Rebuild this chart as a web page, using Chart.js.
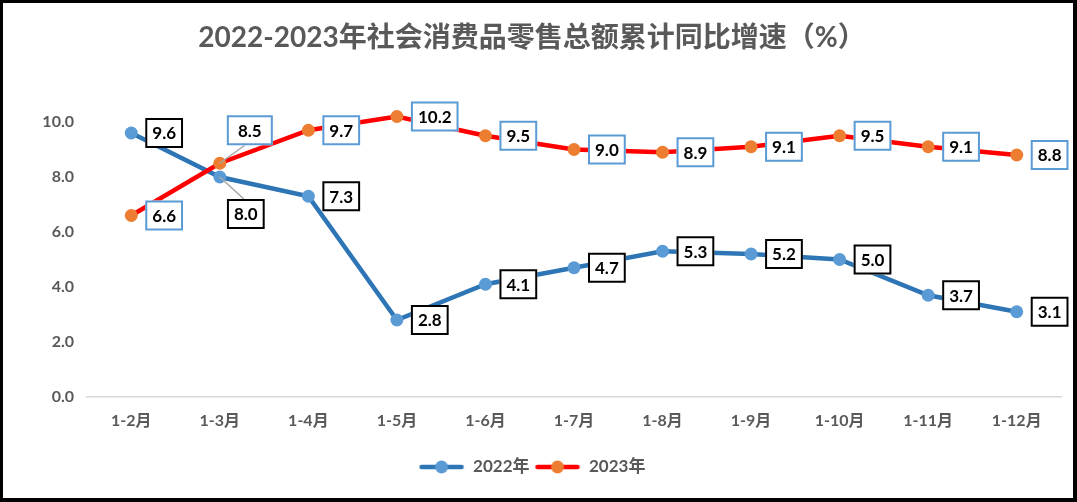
<!DOCTYPE html>
<html>
<head>
<meta charset="utf-8">
<script src="https://cdn.jsdelivr.net/npm/chart.js@4/dist/chart.umd.min.js"></script>
<style>
  html, body { margin: 0; padding: 0; background: #fff; }
  #wrap { width: 1077px; height: 502px; box-sizing: border-box; border-style: solid; border-color: #000; border-width: 3px 4px 4px 3px; background: #fff; }
  canvas { display: block; }
</style>
</head>
<body>
<div id="wrap"><canvas id="c" width="1070" height="495"></canvas></div>
<script>
// ---- data ----
const categories = ['1-2月', '1-3月', '1-4月', '1-5月', '1-6月', '1-7月', '1-8月', '1-9月', '1-10月', '1-11月', '1-12月'];
const seriesNames = ['2022年', '2023年'];
const values2022 = [9.6, 8.0, 7.3, 2.8, 4.1, 4.7, 5.3, 5.2, 5.0, 3.7, 3.1];
const values2023 = [6.6, 8.5, 9.7, 10.2, 9.5, 9.0, 8.9, 9.1, 9.5, 9.1, 8.8];
const yTickStep = 2;
const yMin = 0, yMax = 11;
const titleText = '2022-2023年社会消费品零售总额累计同比增速（%）';

// ---- styling ----
const FONT = "Lato, 'Noto Sans CJK SC', sans-serif";
const lineColors = ['#2E75B6', '#FF0000'];
const pointColors = ['#5B9BD5', '#ED7D31'];
const labelBorderColors = ['#000000', '#5B9BD5'];
// special label placements: [datasetIndex][pointIndex] -> box center offset from point
const specialPlacement = {
  0: { 1: { dx: 26, dy: 37, leader: 'top' } },
  1: { 1: { dx: 30, dy: -33, leader: 'bottom', minW: 46 } }
};

function makeLegendIcon(lineColor, pointColor) {
  const c = document.createElement('canvas');
  c.width = 46; c.height = 14;
  const g = c.getContext('2d');
  g.strokeStyle = lineColor; g.lineWidth = 4.5; g.lineCap = 'round';
  g.beginPath(); g.moveTo(3, 7); g.lineTo(43, 7); g.stroke();
  g.fillStyle = pointColor;
  g.beginPath(); g.arc(23, 7, 6.5, 0, Math.PI * 2); g.fill();
  return c;
}
const legendIcons = [makeLegendIcon(lineColors[0], pointColors[0]), makeLegendIcon(lineColors[1], pointColors[1])];

const labelPlugin = {
  id: 'boxLabels',
  afterDatasetsDraw(chart) {
    const ctx = chart.ctx;
    ctx.save();
    ctx.font = 'bold 17px ' + FONT;
    ctx.textAlign = 'center';
    ctx.textBaseline = 'middle';
    chart.data.datasets.forEach((ds, di) => {
      const meta = chart.getDatasetMeta(di);
      meta.data.forEach((pt, i) => {
        const txt = ds.data[i].toFixed(1);
        const tw = ctx.measureText(txt).width;
        const sp = (specialPlacement[di] || {})[i];
        let w = Math.max(tw + 14, sp && sp.minW ? sp.minW : 0);
        const h = 30;
        let cx, cy;
        if (sp) { cx = pt.x + sp.dx; cy = pt.y + sp.dy; }
        else { cx = pt.x + 14 + w / 2; cy = pt.y; }
        const left = cx - w / 2, top = cy - h / 2;
        if (sp && sp.leader) {
          ctx.strokeStyle = '#A6A6A6'; ctx.lineWidth = 1.5;
          ctx.beginPath();
          ctx.moveTo(pt.x, pt.y);
          if (sp.leader === 'top') ctx.lineTo(cx - 2, top);
          else ctx.lineTo(cx - 5, top + h);
          ctx.stroke();
        }
        ctx.fillStyle = '#FFFFFF';
        ctx.fillRect(left, top, w, h);
        ctx.strokeStyle = labelBorderColors[di];
        ctx.lineWidth = 2;
        ctx.strokeRect(left + 1, top + 1, w - 2, h - 2);
        ctx.fillStyle = '#000000';
        ctx.fillText(txt, cx, cy + 1);
      });
    });
    ctx.restore();
  }
};

new Chart(document.getElementById('c'), {
  type: 'line',
  data: {
    labels: categories,
    datasets: [
      { label: seriesNames[0], data: values2022, borderColor: lineColors[0], backgroundColor: pointColors[0],
        pointBackgroundColor: pointColors[0], pointBorderWidth: 0, pointRadius: 6.5, borderWidth: 4.5,
        tension: 0, order: 1 },
      { label: seriesNames[1], data: values2023, borderColor: lineColors[1], backgroundColor: pointColors[1],
        pointBackgroundColor: pointColors[1], pointBorderWidth: 0, pointRadius: 6.5, borderWidth: 4.5,
        tension: 0, order: 0 }
    ]
  },
  options: {
    responsive: false,
    animation: false,
    layout: { padding: { left: 0, right: 12, top: 0, bottom: 12.5 } },
    plugins: {
      tooltip: { enabled: false },
      title: {
        display: true, text: titleText, color: '#595959',
        font: { family: FONT, size: 28, weight: 'bold', lineHeight: 1.2 },
        padding: { top: 18.2, bottom: 39.7 }
      },
      legend: {
        position: 'bottom',
        labels: {
          usePointStyle: true, pointStyleWidth: 46, padding: 5, color: '#595959',
          font: { family: FONT, size: 17, weight: 'bold' },
          generateLabels: (chart) => chart.data.datasets.map((ds, i) => ({
            text: ds.label, pointStyle: legendIcons[i], fontColor: '#595959', hidden: false,
            datasetIndex: i, lineWidth: 0, strokeStyle: 'rgba(0,0,0,0)', fillStyle: 'rgba(0,0,0,0)'
          }))
        }
      }
    },
    scales: {
      x: {
        offset: true,
        grid: { display: false, drawTicks: false },
        border: { display: true, color: '#D9D9D9', width: 1.5 },
        ticks: { color: '#595959', padding: 14.4, font: { family: FONT, size: 16, weight: 'bold', lineHeight: 1.2 }, maxRotation: 0 },
        afterFit: (s) => { s.height = 56.5; }
      },
      y: {
        min: yMin, max: yMax,
        grid: { display: false, drawTicks: false },
        border: { display: false },
        ticks: {
          stepSize: yTickStep, color: '#595959', padding: 13,
          font: { family: FONT, size: 16, weight: 'bold' },
          callback: (v) => (v % yTickStep === 0 ? Number(v).toFixed(1) : null)
        },
        afterFit: (s) => { s.width = 84; }
      }
    }
  },
  plugins: [labelPlugin]
});
</script>
</body>
</html>
